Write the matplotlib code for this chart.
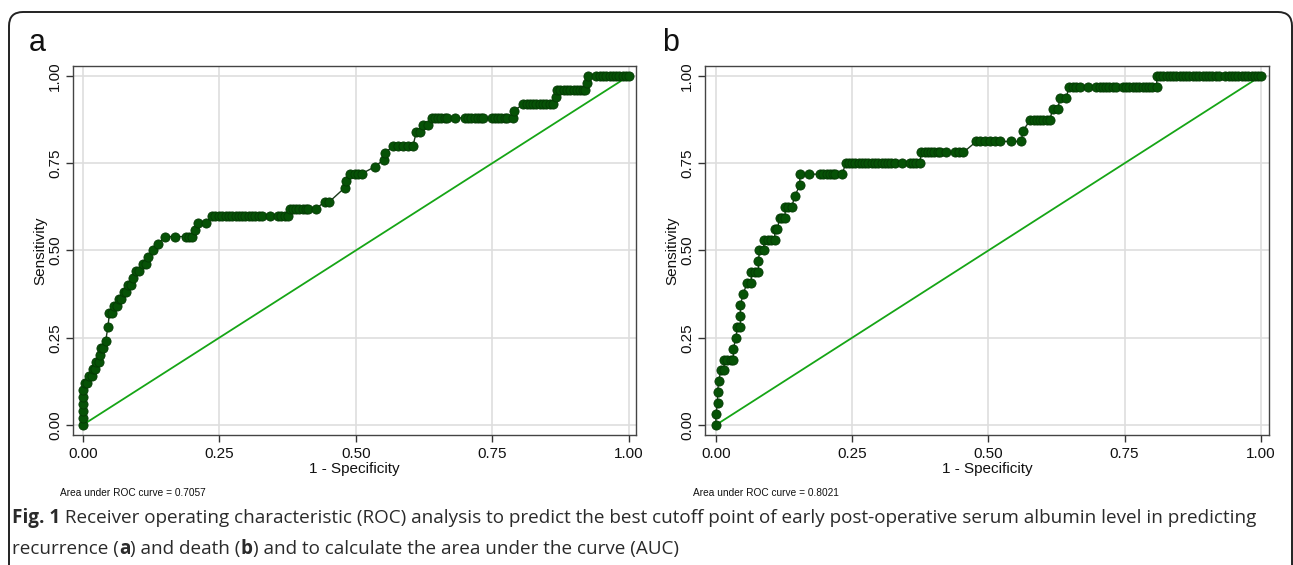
#!/usr/bin/env python3
"""ROC curves for recurrence (a) and death (b) - Fig. 1 recreation"""

import numpy as np
import matplotlib
matplotlib.use("Agg")
import matplotlib.pyplot as plt
from matplotlib.patches import FancyBboxPatch

# ---------- data ----------
# panel a: recurrence
fpr_a = [0.000, 0.000, 0.000, 0.000, 0.000, 0.000, 0.004, 0.008, 0.012, 0.017,
         0.019, 0.023, 0.025, 0.029, 0.031, 0.034, 0.038, 0.042, 0.046, 0.049,
         0.053, 0.058, 0.063, 0.067, 0.071, 0.076, 0.080, 0.083, 0.088, 0.092,
         0.098, 0.103, 0.110, 0.116, 0.120, 0.128, 0.138, 0.151, 0.169, 0.189,
         0.195, 0.200, 0.206, 0.212, 0.226, 0.237,
         0.243, 0.249, 0.255, 0.262, 0.268, 0.274, 0.280, 0.286, 0.292, 0.298,
         0.304, 0.310, 0.316, 0.322, 0.328, 0.343, 0.358, 0.364, 0.370, 0.376,
         0.379, 0.385, 0.391, 0.397, 0.403, 0.409, 0.413, 0.428,
         0.443, 0.452, 0.480, 0.483, 0.489, 0.499, 0.505, 0.511,
         0.535, 0.551, 0.554, 0.569, 0.578, 0.587, 0.596, 0.605,
         0.611, 0.618, 0.624, 0.633, 0.639,
         0.645, 0.651, 0.657, 0.663, 0.668, 0.682, 0.700, 0.706, 0.712, 0.718,
         0.724, 0.730, 0.734, 0.749, 0.755, 0.761, 0.767, 0.773, 0.777, 0.789,
         0.790, 0.807, 0.813, 0.819, 0.825, 0.831, 0.837, 0.843, 0.849, 0.855,
         0.862, 0.867, 0.869, 0.875, 0.881, 0.887, 0.893, 0.899, 0.905, 0.911,
         0.917, 0.920, 0.923, 0.926, 0.941, 0.947, 0.953, 0.959, 0.965, 0.971,
         0.977, 0.983, 0.989, 0.995, 1.000]
tpr_a = [0.00, 0.02, 0.04, 0.06, 0.08, 0.10, 0.12, 0.12, 0.14, 0.14,
         0.16, 0.16, 0.18, 0.18, 0.20, 0.22, 0.22, 0.24, 0.28, 0.32,
         0.32, 0.34, 0.34, 0.36, 0.36, 0.38, 0.38, 0.40, 0.40, 0.42,
         0.44, 0.44, 0.46, 0.46, 0.48, 0.50, 0.52, 0.54, 0.54, 0.54,
         0.54, 0.54, 0.56, 0.58, 0.58, 0.60,
         0.60, 0.60, 0.60, 0.60, 0.60, 0.60, 0.60, 0.60, 0.60, 0.60,
         0.60, 0.60, 0.60, 0.60, 0.60, 0.60, 0.60, 0.60, 0.60, 0.60,
         0.62, 0.62, 0.62, 0.62, 0.62, 0.62, 0.62, 0.62,
         0.64, 0.64, 0.68, 0.70, 0.72, 0.72, 0.72, 0.72,
         0.74, 0.76, 0.78, 0.80, 0.80, 0.80, 0.80, 0.80,
         0.84, 0.84, 0.86, 0.86, 0.88,
         0.88, 0.88, 0.88, 0.88, 0.88, 0.88, 0.88, 0.88, 0.88, 0.88,
         0.88, 0.88, 0.88, 0.88, 0.88, 0.88, 0.88, 0.88, 0.88, 0.88,
         0.90, 0.92, 0.92, 0.92, 0.92, 0.92, 0.92, 0.92, 0.92, 0.92,
         0.92, 0.94, 0.96, 0.96, 0.96, 0.96, 0.96, 0.96, 0.96, 0.96,
         0.96, 0.96, 0.98, 1.00, 1.00, 1.00, 1.00, 1.00, 1.00, 1.00,
         1.00, 1.00, 1.00, 1.00, 1.00]

# panel b: death (sensitivity in steps of 1/32)
fpr_b = [0.000, 0.000, 0.003, 0.003, 0.005, 0.009, 0.015, 0.015, 0.021, 0.027,
         0.032, 0.032, 0.037, 0.039, 0.045, 0.045, 0.045, 0.050, 0.057, 0.065,
         0.065, 0.071, 0.078, 0.078, 0.080, 0.088, 0.088, 0.095, 0.102, 0.108,
         0.108, 0.113, 0.117, 0.122, 0.127, 0.127, 0.133, 0.139, 0.145, 0.154,
         0.154, 0.171, 0.191, 0.197, 0.203, 0.209, 0.215, 0.218, 0.232,
         0.238, 0.244, 0.250, 0.256, 0.262, 0.268, 0.274, 0.280, 0.286, 0.292,
         0.298, 0.304, 0.310, 0.316, 0.322, 0.328, 0.342, 0.356, 0.362, 0.368,
         0.374,
         0.377, 0.383, 0.389, 0.395, 0.401, 0.407, 0.411, 0.423, 0.438, 0.446,
         0.454,
         0.478, 0.484, 0.493, 0.503, 0.512, 0.521, 0.541, 0.560,
         0.564, 0.577, 0.583, 0.589, 0.595, 0.601, 0.607, 0.613,
         0.618, 0.628, 0.631, 0.643,
         0.648, 0.655, 0.661, 0.668, 0.683, 0.698, 0.704, 0.710, 0.716, 0.722,
         0.729, 0.735, 0.747, 0.753, 0.759, 0.765, 0.771, 0.777, 0.783, 0.789,
         0.795, 0.801, 0.809,
         0.809, 0.815, 0.821, 0.827, 0.833, 0.839, 0.845, 0.851, 0.857, 0.863,
         0.869, 0.875, 0.881, 0.887, 0.893, 0.899, 0.905, 0.911, 0.917, 0.923,
         0.935, 0.941, 0.947, 0.953, 0.959, 0.965, 0.971, 0.977, 0.983, 0.989,
         0.995, 1.000]
hits_b = [0, 1, 2, 3, 4, 5, 5, 6, 6, 6,
          6, 7, 8, 9, 9, 10, 11, 12, 13, 13,
          14, 14, 14, 15, 16, 16, 17, 17, 17, 17,
          18, 18, 19, 19, 19, 20, 20, 20, 21, 22,
          23, 23, 23, 23, 23, 23, 23, 23, 23,
          24, 24, 24, 24, 24, 24, 24, 24, 24, 24,
          24, 24, 24, 24, 24, 24, 24, 24, 24, 24,
          24,
          25, 25, 25, 25, 25, 25, 25, 25, 25, 25,
          25,
          26, 26, 26, 26, 26, 26, 26, 26,
          27, 28, 28, 28, 28, 28, 28, 28,
          29, 29, 30, 30,
          31, 31, 31, 31, 31, 31, 31, 31, 31, 31,
          31, 31, 31, 31, 31, 31, 31, 31, 31, 31,
          31, 31, 31,
          32, 32, 32, 32, 32, 32, 32, 32, 32, 32,
          32, 32, 32, 32, 32, 32, 32, 32, 32, 32,
          32, 32, 32, 32, 32, 32, 32, 32, 32, 32,
          32, 32]
n_pos_b = 32
tpr_b = [h / n_pos_b for h in hits_b]

auc_labels = ["Area under ROC curve = 0.7057", "Area under ROC curve = 0.8021"]
panel_letters = ["a", "b"]
ticks = [0.0, 0.25, 0.50, 0.75, 1.0]
tick_labels = ["0.00", "0.25", "0.50", "0.75", "1.00"]

caption_line1 = [("Fig. 1", "bold"),
                 (" Receiver operating characteristic (ROC) analysis to predict the best cutoff "
                  "point of early post-operative serum albumin level in predicting", "normal")]
caption_line2 = [("recurrence (", "normal"), ("a", "bold"), (") and death (", "normal"),
                 ("b", "bold"), (") and to calculate the area under the curve (AUC)", "normal")]

# ---------- figure ----------
W, H = 1293, 565
fig = plt.figure(figsize=(W / 100, H / 100), dpi=100)
fig.patch.set_facecolor("white")

plt.rcParams["font.family"] = ["Liberation Sans", "DejaVu Sans"]

# rounded border around the whole figure (inches; top edge 12 px below the top)
border = FancyBboxPatch((0.09, -0.3), 12.83, 5.53 + 0.3,
                        boxstyle="round,pad=0,rounding_size=0.14",
                        transform=fig.dpi_scale_trans, fill=False,
                        edgecolor="#222222", linewidth=1.4, zorder=0)
fig.patches.append(border)

axes_px = [(73, 636), (705, 1269)]   # left/right of the plot frames in pixels
top_px, bot_px = 66, 435
xlims = [(-0.0178, 1.0134), (-0.020, 1.015)]
ylim = (-0.0287, 1.0287)

series = [(fpr_a, tpr_a), (fpr_b, tpr_b)]

for i, ((l, r), (fx, ty)) in enumerate(zip(axes_px, series)):
    ax = fig.add_axes([l / W, 1 - bot_px / H, (r - l) / W, (bot_px - top_px) / H])
    ax.set_xlim(*xlims[i])
    ax.set_ylim(*ylim)

    ax.set_xticks(ticks)
    ax.set_xticklabels(tick_labels)
    ax.set_yticks(ticks)
    ax.set_yticklabels(tick_labels, rotation=90, va="center")
    ax.tick_params(direction="out", length=5, width=1, color="#333333",
                   labelsize=11, labelcolor="#111111")
    ax.tick_params(axis="y", pad=3)
    ax.tick_params(axis="x", pad=4)
    ax.grid(True, color="#dedede", linewidth=1.2)
    ax.set_axisbelow(True)
    for sp in ax.spines.values():
        sp.set_color("#444444")
        sp.set_linewidth(1.0)

    # chance line
    ax.plot([0, 1], [0, 1], color="#16a516", linewidth=1.3, zorder=2)
    # ROC curve
    ax.plot(fx, ty, color="#1b3a1b", linewidth=1.0, marker="o", markersize=6.6,
            markerfacecolor="#065206", markeredgecolor="#043a04",
            markeredgewidth=0.6, zorder=3)

    ax.set_xlabel("1 - Specificity", fontsize=11, labelpad=0, color="#111111")
    ax.set_ylabel("Sensitivity", fontsize=11, color="#111111")
    ax.yaxis.set_label_coords(-26 / (r - l), 0.5)

    # AUC note and panel letter
    note_x = [60, 693][i]
    fig.text(note_x / W, 1 - 493 / H, auc_labels[i], fontsize=7.3,
             family=["Liberation Sans Narrow", "Liberation Sans", "DejaVu Sans"],
             va="center", ha="left", color="#111111")
    letter_x = [29, 662][i]
    fig.text(letter_x / W, 1 - 51 / H, panel_letters[i], fontsize=22,
             va="baseline", ha="left", color="#111111")

# ---------- caption with bold pieces ----------
fig.canvas.draw()
renderer = fig.canvas.get_renderer()


def draw_rich(x_px, base_px, parts, size=13.55):
    x = x_px
    for txt, wt in parts:
        t = fig.text(x / W, 1 - base_px / H, txt, fontsize=size, weight=wt,
                     family=["Open Sans", "DejaVu Sans"], color="#2a2a2a",
                     va="baseline", ha="left")
        x += t.get_window_extent(renderer).width


draw_rich(12, 523, caption_line1)
draw_rich(12, 554, caption_line2)

plt.savefig("out.png", dpi=100)
plt.close()
